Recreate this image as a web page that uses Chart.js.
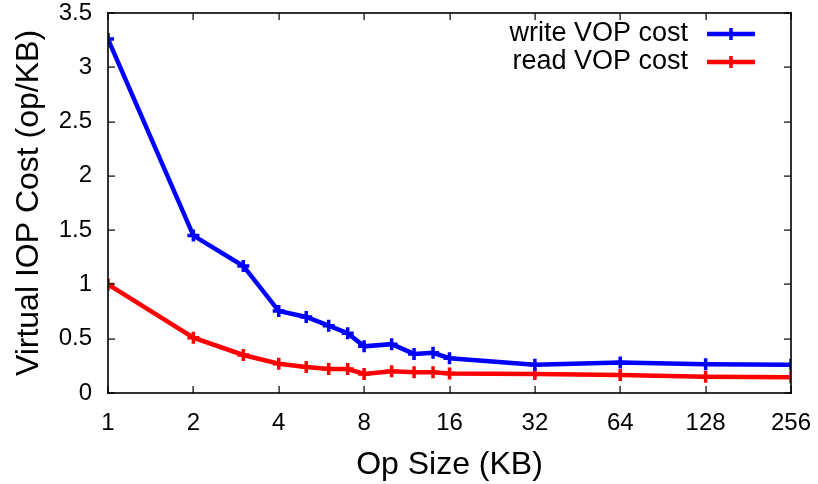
<!DOCTYPE html>
<html>
<head>
<meta charset="utf-8">
<script src="https://cdn.jsdelivr.net/npm/chart.js@4.4.1/dist/chart.umd.min.js"></script>
<style>
  html, body { margin: 0; padding: 0; background: #fff; }
  #wrap { width: 818px; height: 484px; }
</style>
</head>
<body>
<div id="wrap"><canvas id="myChart" width="818" height="484"></canvas></div>
<script>
// op sizes in KB (x axis, log2)
const opSizes = [1, 2, 3, 4, 5, 6, 7, 8, 10, 12, 14, 16, 32, 64, 128, 256];
const writeCost = [3.26, 1.45, 1.17, 0.755, 0.70, 0.62, 0.55, 0.43, 0.45, 0.36, 0.37, 0.32, 0.26, 0.28, 0.265, 0.26];
const readCost = [1.0, 0.51, 0.35, 0.27, 0.24, 0.22, 0.22, 0.175, 0.20, 0.19, 0.19, 0.18, 0.175, 0.165, 0.15, 0.145];
const xTicks = [1, 2, 4, 8, 16, 32, 64, 128, 256];
const yTicks = [0, 0.5, 1, 1.5, 2, 2.5, 3, 3.5];
const seriesNames = ['write VOP cost', 'read VOP cost'];

const FONT = '"Liberation Sans", Arial, Helvetica, sans-serif';

function points(ys) {
    return opSizes.map(function (x, i) { return { x: x, y: ys[i] }; });
}

// gnuplot style box with inward ticks, plus the key in the top right corner
const decor = {
    id: 'decor',
    afterDraw(chart) {
        const a = chart.chartArea;
        const c = chart.ctx;
        const xs = chart.scales.x, ys = chart.scales.y;
        const len = 7;
        c.save();
        c.setLineDash([]);
        c.fillStyle = '#000';
        // box edges
        c.fillRect(a.left - 0.8, a.top - 0.8, a.right - a.left + 1.6, 1.6);
        c.fillRect(a.left - 0.8, a.bottom - 0.8, a.right - a.left + 1.6, 1.6);
        c.fillRect(a.left - 0.8, a.top - 0.8, 1.6, a.bottom - a.top + 1.6);
        c.fillRect(a.right - 0.8, a.top - 0.8, 1.6, a.bottom - a.top + 1.6);
        xTicks.forEach(function (v) {
            const px = Math.round(xs.getPixelForValue(v));
            c.fillRect(px - 0.5, a.bottom - len, 1.2, len);
            c.fillRect(px - 0.5, a.top, 1.2, len);
        });
        yTicks.forEach(function (v) {
            const py = Math.round(ys.getPixelForValue(v));
            c.fillRect(a.left, py - 0.5, len, 1.2);
            c.fillRect(a.right - len, py - 0.5, len, 1.2);
        });

        const textRight = 688, lineL = 707, lineR = 755;
        c.font = '27px ' + FONT;
        c.textAlign = 'right';
        c.textBaseline = 'middle';
        chart.data.datasets.forEach(function (ds, i) {
            const y = 34 + i * 28;
            c.fillStyle = '#000';
            c.fillText(ds.label, textRight, y);
            c.strokeStyle = ds.borderColor;
            c.lineWidth = 4.5;
            c.beginPath();
            c.moveTo(lineL, y); c.lineTo(lineR, y);
            c.stroke();
            const cx = (lineL + lineR) / 2;
            c.lineWidth = 3.5;
            c.beginPath();
            c.moveTo(cx - 6, y); c.lineTo(cx + 6, y);
            c.moveTo(cx, y - 6); c.lineTo(cx, y + 6);
            c.stroke();
        });
        c.restore();
    }
};

const ctx = document.getElementById('myChart').getContext('2d');
const myChart = new Chart(ctx, {
    type: 'line',
    data: {
        datasets: [
            {
                label: seriesNames[0],
                data: points(writeCost),
                borderColor: '#0000ff',
                backgroundColor: '#0000ff',
                borderWidth: 4.5,
                pointStyle: 'cross',
                pointRadius: 6,
                pointBorderWidth: 3.5,
                pointHoverRadius: 6
            },
            {
                label: seriesNames[1],
                data: points(readCost),
                borderColor: '#ff0000',
                backgroundColor: '#ff0000',
                borderWidth: 4.5,
                pointStyle: 'cross',
                pointRadius: 6,
                pointBorderWidth: 3.5,
                pointHoverRadius: 6
            }
        ]
    },
    options: {
        responsive: false,
        animation: false,
        events: [],
        layout: { padding: { top: 13, right: 27, left: 0, bottom: 0 } },
        plugins: {
            legend: { display: false },
            tooltip: { enabled: false }
        },
        scales: {
            x: {
                type: 'logarithmic',
                min: 1,
                max: 256,
                afterBuildTicks: function (scale) {
                    scale.ticks = xTicks.map(function (v) { return { value: v }; });
                },
                afterFit: function (scale) {
                    scale.height = 91;
                    scale.paddingLeft = 0;
                    scale.paddingRight = 0;
                },
                grid: { display: false, drawTicks: false },
                border: { display: false },
                ticks: {
                    color: '#000',
                    font: { family: FONT, size: 24 },
                    padding: 16,
                    maxRotation: 0,
                    autoSkip: false,
                    callback: function (v) { return String(v); }
                },
                title: {
                    display: true,
                    text: 'Op Size (KB)',
                    color: '#000',
                    font: { family: FONT, size: 32 },
                    padding: { top: 11, bottom: 0 }
                }
            },
            y: {
                min: 0,
                max: 3.5,
                afterBuildTicks: function (scale) {
                    scale.ticks = yTicks.map(function (v) { return { value: v }; });
                },
                afterFit: function (scale) {
                    scale.width = 108;
                    scale.paddingTop = 0;
                    scale.paddingBottom = 0;
                },
                grid: { display: false, drawTicks: false },
                border: { display: false },
                ticks: {
                    color: '#000',
                    font: { family: FONT, size: 24 },
                    padding: 16,
                    callback: function (v) { return String(v); }
                },
                title: {
                    display: true,
                    text: 'Virtual IOP Cost (op/KB)',
                    color: '#000',
                    font: { family: FONT, size: 32 },
                    padding: { top: 10, bottom: 0 }
                }
            }
        }
    },
    plugins: [decor]
});
</script>
</body>
</html>
